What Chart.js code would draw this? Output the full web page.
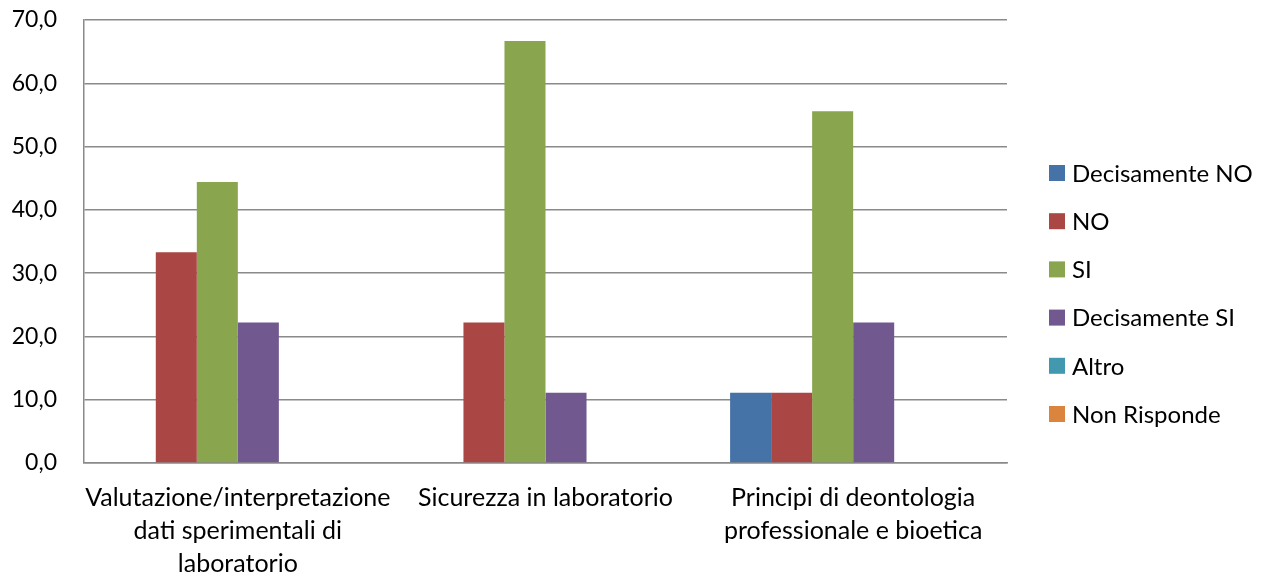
<!DOCTYPE html>
<html>
<head>
<meta charset="utf-8">
<script src="https://cdn.jsdelivr.net/npm/chart.js@4/dist/chart.umd.min.js"></script>
<style>
  html, body { margin: 0; padding: 0; background: #fff; }
  #wrap { width: 1263px; height: 574px; position: relative; }
</style>
</head>
<body>
<div id="wrap"><canvas id="c" width="1263" height="574"></canvas></div>
<script>
const categories = [
  ["Valutazione/interpretazione", "dati sperimentali di", "laboratorio"],
  ["Sicurezza in laboratorio"],
  ["Principi di deontologia", "professionale e bioetica"]
];
const seriesNames = ["Decisamente NO", "NO", "SI", "Decisamente SI", "Altro", "Non Risponde"];
const decisamenteNO = [0, 0, 11.1];
const no = [33.3, 22.2, 11.1];
const si = [44.4, 66.7, 55.6];
const decisamenteSI = [22.2, 11.1, 22.2];
const altro = [0, 0, 0];
const nonRisponde = [0, 0, 0];
const yTicks = [0, 10, 20, 30, 40, 50, 60, 70];

const seriesValues = [decisamenteNO, no, si, decisamenteSI, altro, nonRisponde];
const colors = ["#4572A7", "#AA4643", "#89A54E", "#71588F", "#4198AF", "#DB843D"];
const FONT = "Lato";
const gridColor = "#8a8a8a";

const legendPlugin = {
  id: "sideLegend",
  afterDraw(chart) {
    const ctx = chart.ctx;
    ctx.save();
    ctx.font = "24px " + FONT;
    ctx.textBaseline = "middle";
    ctx.textAlign = "left";
    chart.data.datasets.forEach((ds, i) => {
      const y = 173 + i * 48.2;
      ctx.fillStyle = ds.backgroundColor;
      ctx.fillRect(1049, y - 8, 16, 16);
      ctx.fillStyle = "#000";
      ctx.fillText(ds.label, 1072, y + 1);
    });
    ctx.restore();
  }
};

new Chart(document.getElementById("c"), {
  type: "bar",
  data: {
    labels: categories,
    datasets: seriesNames.map((name, i) => ({
      label: name,
      data: seriesValues[i],
      backgroundColor: colors[i],
      borderWidth: 0,
      barPercentage: 1.0,
      categoryPercentage: 0.8
    }))
  },
  options: {
    responsive: false,
    animation: false,
    devicePixelRatio: 1,
    layout: { padding: { top: 20, right: 256, left: 0, bottom: 0 } },
    plugins: { legend: { display: false }, tooltip: { enabled: false } },
    scales: {
      x: {
        grid: { display: false, drawTicks: false },
        border: { display: true, color: gridColor, width: 1.5 },
        ticks: {
          color: "#000",
          font: { family: FONT, size: 25, lineHeight: "33px" },
          padding: 18,
          maxRotation: 0,
          autoSkip: false
        },
        afterFit(scale) { scale.height = 111; scale.paddingTop = 0; scale.paddingBottom = 0; }
      },
      y: {
        min: 0,
        max: 70,
        afterBuildTicks(scale) { scale.ticks = yTicks.map(v => ({ value: v })); },
        grid: { color: gridColor, lineWidth: 1.5, drawTicks: false },
        border: { display: true, color: gridColor, width: 1.5 },
        ticks: {
          color: "#000",
          font: { family: FONT, size: 23 },
          padding: 27,
          callback: v => v.toFixed(1).replace(".", ",")
        },
        afterFit(scale) { scale.width = 84; scale.paddingTop = 0; scale.paddingBottom = 0; }
      }
    }
  },
  plugins: [legendPlugin]
});
</script>
</body>
</html>
